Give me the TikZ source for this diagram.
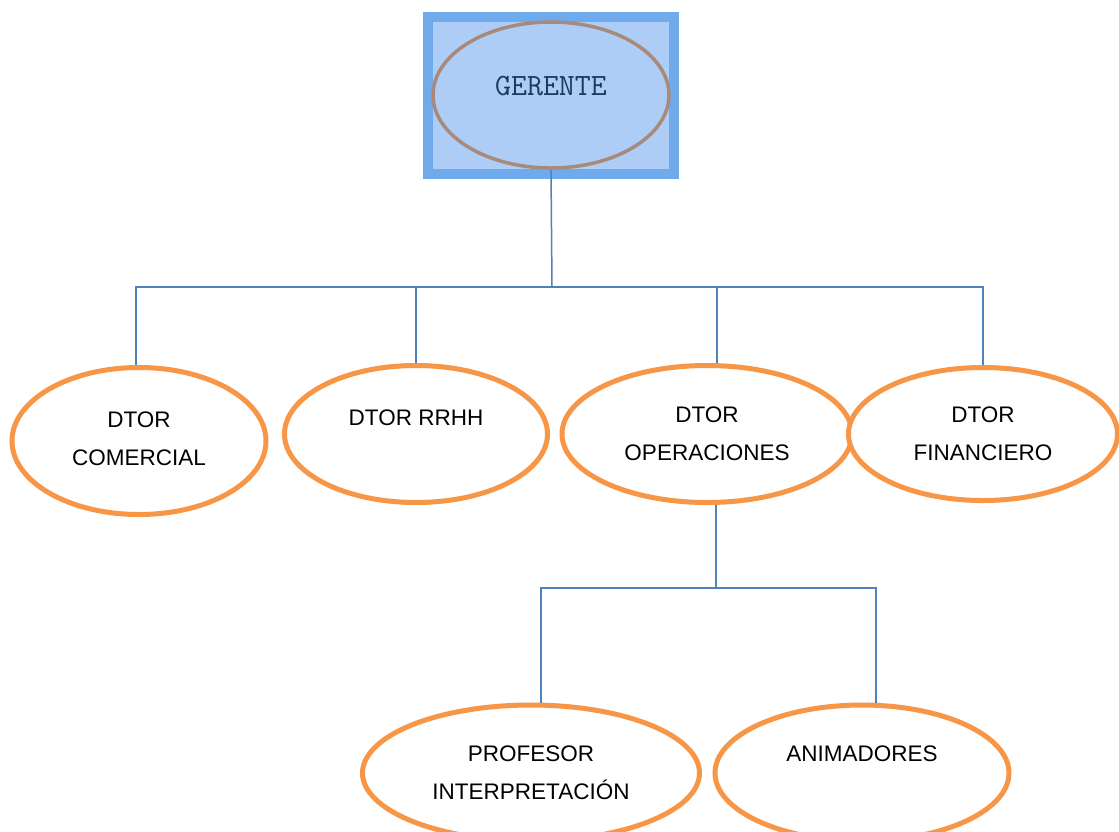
\documentclass[tikz,border=0pt]{standalone}
\usepackage{fontspec}
\setmainfont{Liberation Sans}
\usetikzlibrary{shapes.geometric}
\definecolor{orangeline}{HTML}{F79646}
\definecolor{boxline}{HTML}{6FAAEC}
\definecolor{boxfill}{HTML}{AECDF6}
\definecolor{gerline}{HTML}{A88A7C}
\definecolor{gertext}{HTML}{1B3A5C}
\definecolor{connblue}{HTML}{4F81BD}
\tikzset{
  dept/.style={ellipse, draw=orangeline, line width=5pt, fill=white, inner sep=0pt,
    align=center, font=\fontsize{22.5}{38}\selectfont},
  conn/.style={draw=connblue, line width=1.5pt},
}
\begin{document}
\begin{tikzpicture}[x=1pt,y=-1pt]
\useasboundingbox (0,0) rectangle (1119,831);
\fill[white] (0,0) rectangle (1119,831);
% top box
\node[rectangle, draw=boxline, fill=boxfill, line width=10pt, minimum width=246pt, minimum height=157pt, inner sep=0pt] (gerbox) at (551,95) {};
\node[ellipse, draw=gerline, line width=3.5pt, minimum width=236pt, minimum height=146pt, inner sep=0pt,
  font=\ttfamily\fontsize{31}{34}\selectfont, text=gertext, text depth=0pt] (ger) at (551,95) {\raisebox{19pt}{GERENTE}};
% departments
\node[dept, minimum width=254pt, minimum height=147pt] (com) at (139,441) {\raisebox{4pt}{DTOR}\\\raisebox{4pt}{COMERCIAL}};
\node[dept, minimum width=263pt, minimum height=137pt] (rrhh) at (416,434) {\raisebox{-5pt}{DTOR RRHH}\\~};
\node[dept, minimum width=290pt, minimum height=137pt] (ope) at (707,434) {DTOR\\OPERACIONES};
\node[dept, minimum width=269pt, minimum height=133pt] (fin) at (983,434) {DTOR\\FINANCIERO};
\node[dept, minimum width=337pt, minimum height=136pt] (prof) at (531,773) {PROFESOR\\INTERPRETACIÓN};
\node[dept, minimum width=294pt, minimum height=136pt] (anim) at (862,773) {ANIMADORES\\~};
% connectors
\coordinate (j1) at (552,287);
\coordinate (j2) at (716,588);
\draw[conn] (ger.south) -- (j1);
\draw[conn] ([xshift=-3pt]com.north) |- (j1) -| (fin.north);
\draw[conn] (rrhh.north) -- (rrhh.north |- j1);
\draw[conn] ([xshift=10pt]ope.north) -- ([xshift=10pt]ope.north |- j1);
\draw[conn] (j2 |- ope.south) -- (j2);
\draw[conn] ([xshift=10pt]prof.north) |- (j2) -| ([xshift=14pt]anim.north);
\end{tikzpicture}
\end{document}
